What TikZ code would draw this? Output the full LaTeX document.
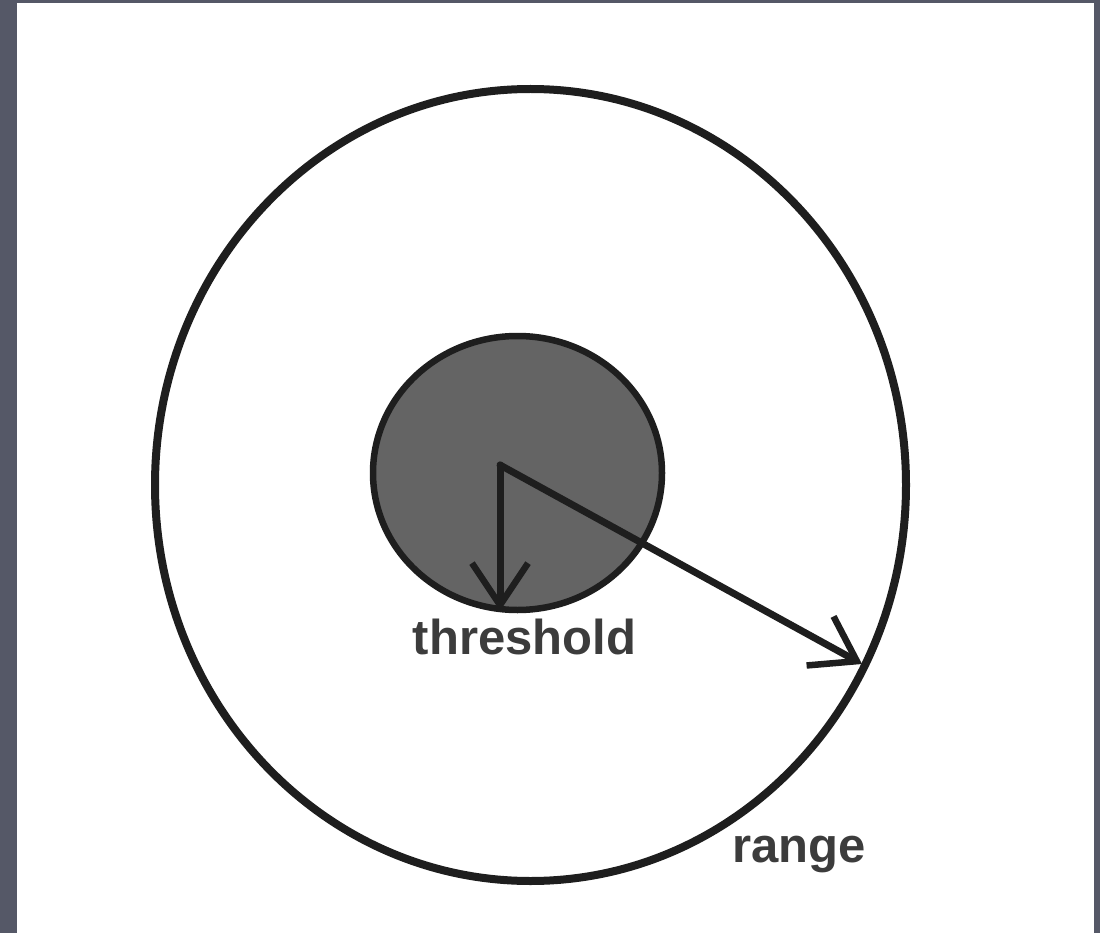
\documentclass[tikz,border=0pt]{standalone}
\usepackage{fontspec}
\setmainfont{Liberation Sans}
\usetikzlibrary{arrows.meta}
\definecolor{frame}{HTML}{555867}
\definecolor{disk}{HTML}{646464}
\definecolor{ink}{HTML}{1E1E1E}
\definecolor{labelgray}{HTML}{3C3C3C}
\tikzset{
  ring/.style={draw=ink, line width=8pt},
  core/.style={draw=ink, fill=disk, line width=6.5pt},
  radius arrow/.style={draw=ink, line width=7pt, line cap=round,
    -{Straight Barb[length=42pt,width=56pt,line width=6.5pt]}},
  lbl/.style={text=labelgray, font=\bfseries\fontsize{49}{55}\selectfont, inner sep=0pt, anchor=base}
}
\begin{document}
\begin{tikzpicture}[x=1pt,y=-1pt]
\fill[frame] (0,0) rectangle (1100,933);
\fill[white] (17,3) rectangle (1094,933);
\useasboundingbox (0,0) rectangle (1100,933);
\draw[ring] (530.5,485) ellipse [x radius=375.5, y radius=396];
\draw[core] (517.5,473) ellipse [x radius=144.5, y radius=137];
\coordinate (c) at (500,465);
\coordinate (tdown) at (500,611);
\coordinate (trange) at (862,664);
\draw[radius arrow] (c) -- (tdown);
\draw[radius arrow] (c) -- (trange);
\node[lbl] (threshold) at (524.5,654) {threshold};
\node[lbl] (range) at (799,862) {range};
\end{tikzpicture}
\end{document}
